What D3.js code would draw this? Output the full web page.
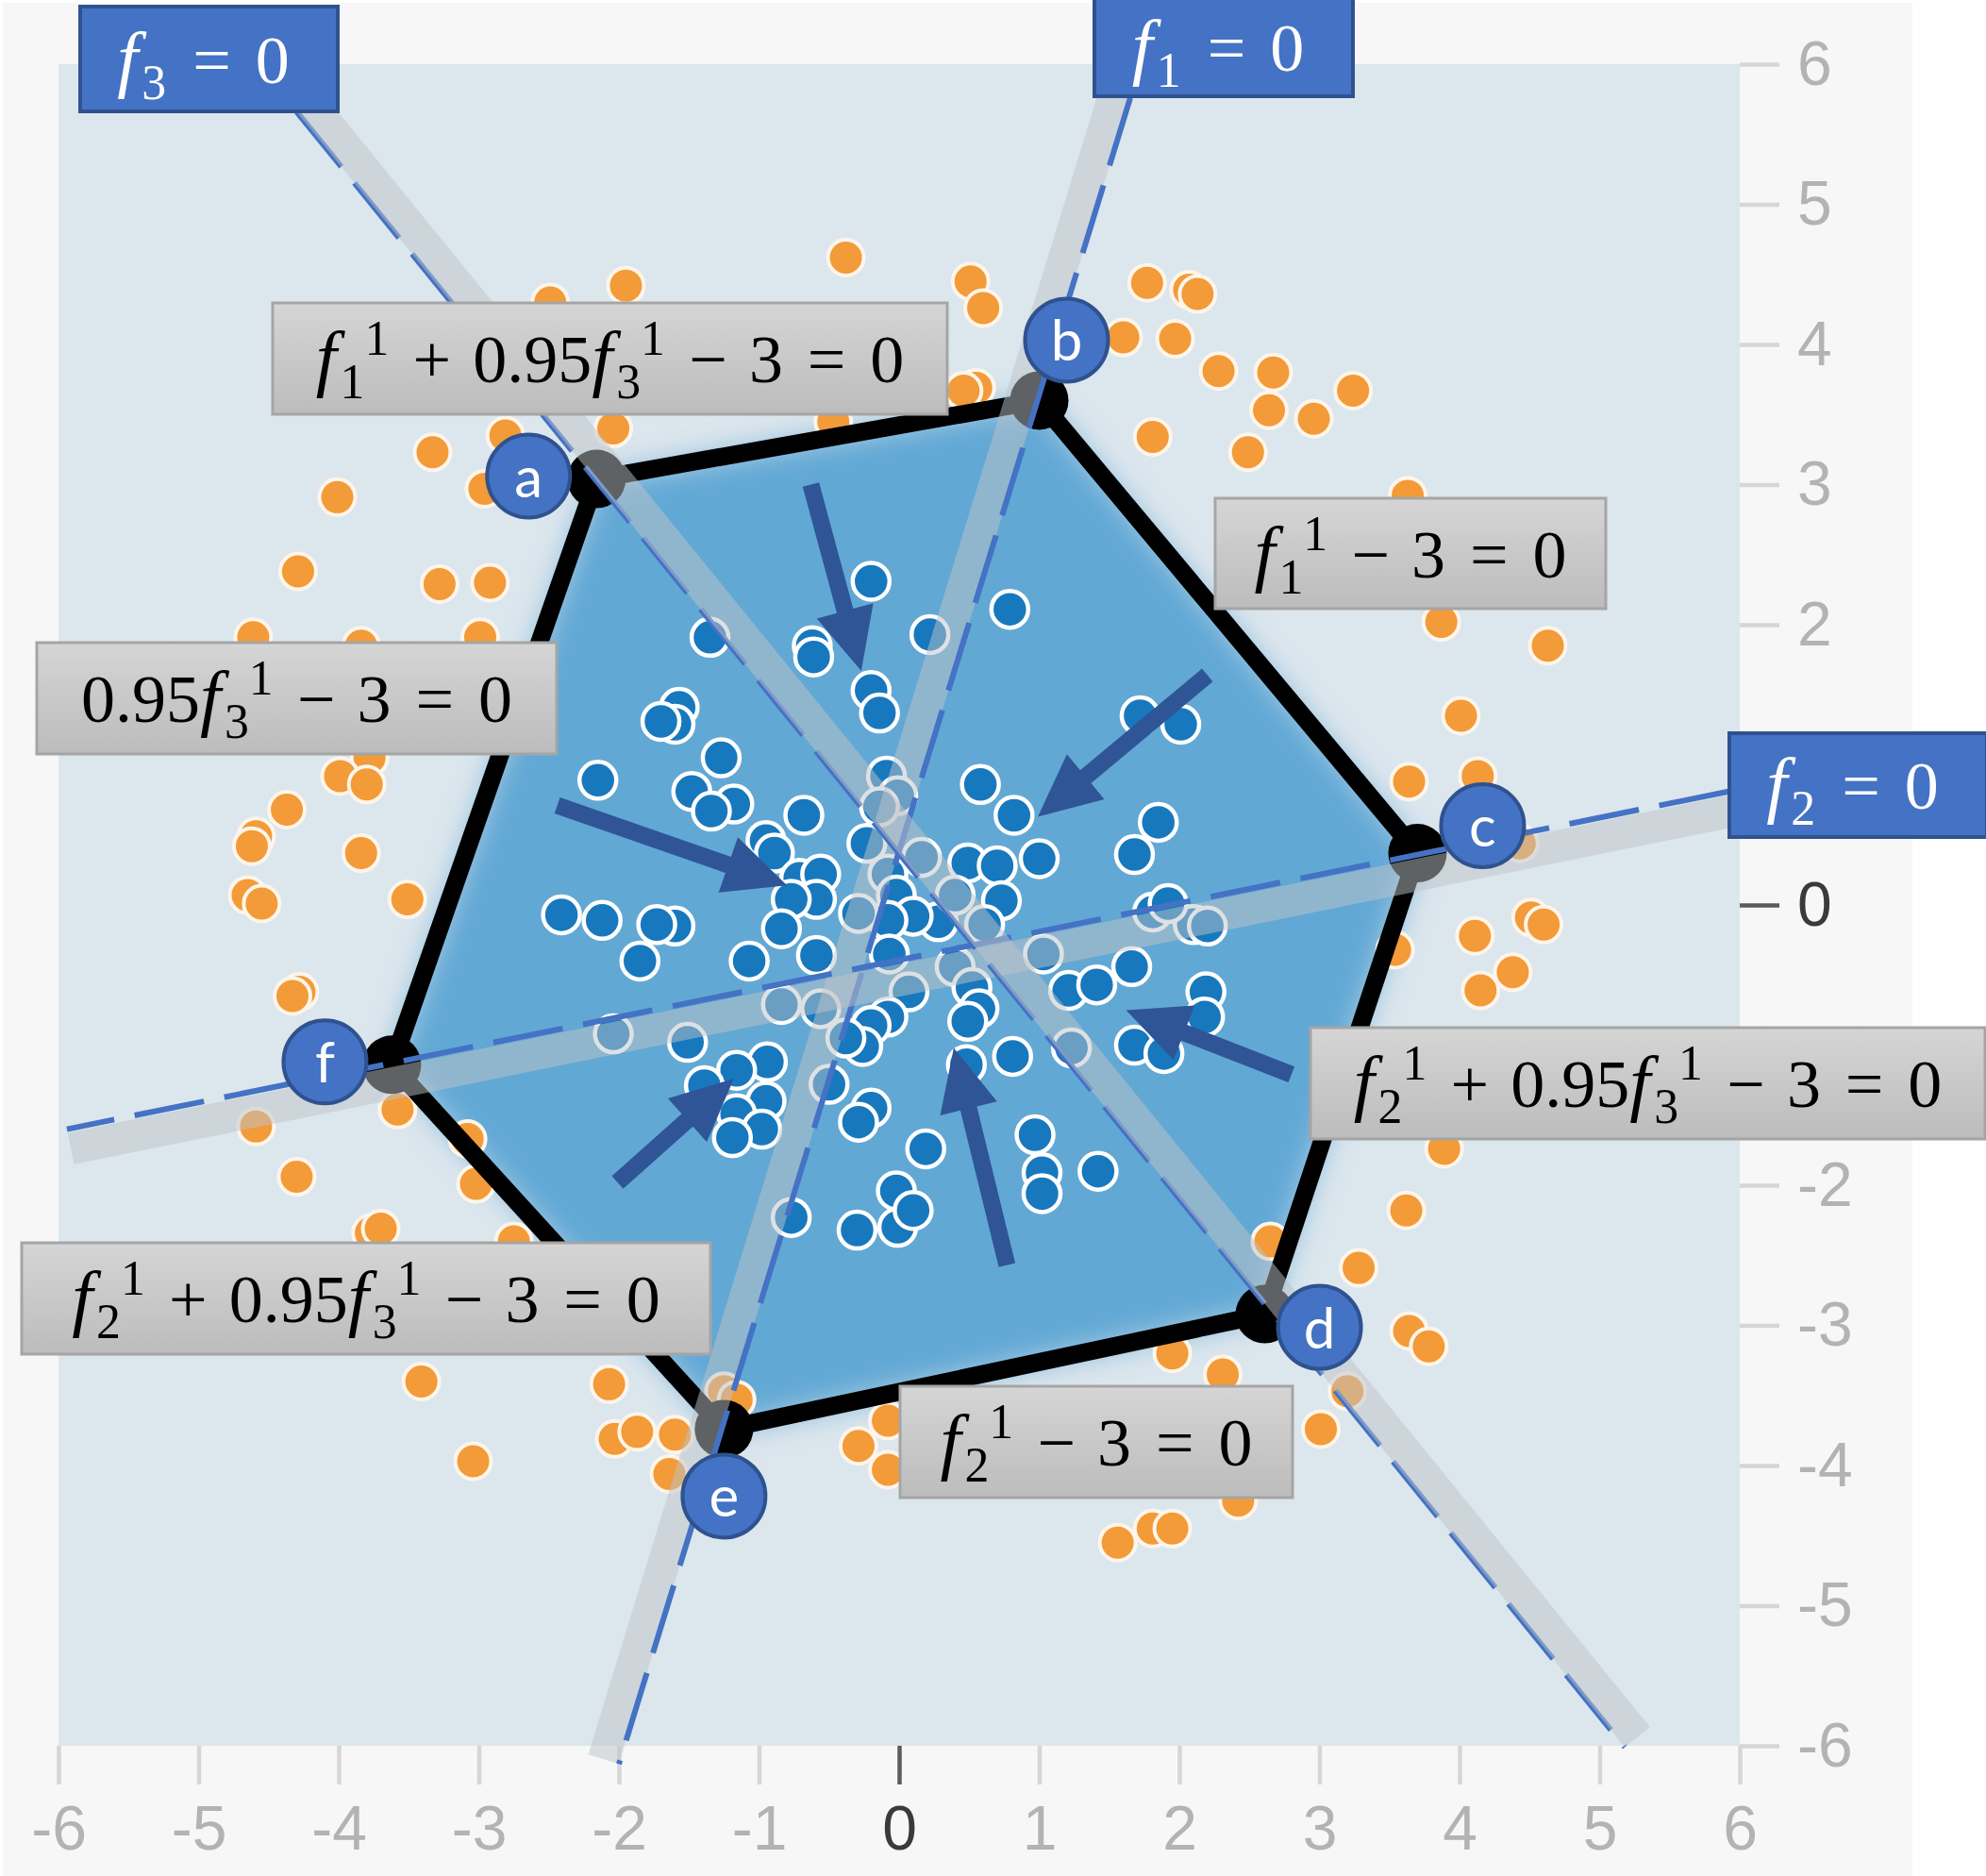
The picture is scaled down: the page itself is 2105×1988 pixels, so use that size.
<!DOCTYPE html>
<html>
<head>
<meta charset="utf-8">
<script src="https://cdn.jsdelivr.net/npm/d3@7"></script>
<style>
body { margin: 0; background: #fff; }
svg { display: block; }
</style>
</head>
<body>
<svg width="2105" height="1988"></svg>
<script>
// ---- data (feature space coordinates) ----
var tickVals = [-6, -5, -4, -3, -2, -1, 0, 1, 2, 3, 4, 5, 6];

var vertexNames = ["a", "b", "c", "d", "e", "f"];
var vertexX = [-2.16, 1.00, 3.70, 2.61, -1.25, -3.62];
var vertexY = [3.04, 3.60, 0.37, -2.92, -3.74, -1.14];

// f1 = 0, f2 = 0, f3 = 0
var lineNames = ["f_1 = 0", "f_2 = 0", "f_3 = 0"];
var lineStart = [[1.65, 5.76], [5.92, 0.81], [-4.30, 5.66]];
var lineEnd = [[-2.00, -6.13], [-5.94, -1.60], [5.18, -6.01]];

var constraintLabels = [
  "f_1^1 + 0.95f_3^1 − 3 = 0",
  "f_1^1 − 3 = 0",
  "0.95f_3^1 − 3 = 0",
  "f_2^1 + 0.95f_3^1 − 3 = 0",
  "f_2^1 + 0.95f_3^1 − 3 = 0",
  "f_2^1 − 3 = 0"
];

var arrowFrom = [[-0.63, 3.00], [2.20, 1.64], [-2.44, 0.71], [-2.01, -1.98], [0.77, -2.57], [2.80, -1.21]];
var arrowTo = [[-0.27, 1.67], [0.99, 0.63], [-0.80, 0.14], [-1.18, -1.24], [0.39, -1.02], [1.62, -0.75]];

var outsidePts = [
  [-1.95,4.42],[-2.49,4.30],[-3.33,3.23],[-2.81,3.35],[-2.04,3.40],[-4.01,2.91],[-2.96,2.97],
  [-0.38,4.62],[0.51,4.45],[0.60,4.26],[1.77,4.44],[2.07,4.39],[2.13,4.36],[1.60,4.05],[1.97,4.04],
  [2.28,3.81],[2.67,3.80],[2.64,3.53],[2.96,3.47],[1.81,3.34],[2.49,3.23],[0.55,3.69],[0.46,3.67],
  [-0.47,3.45],[3.24,3.67],[3.63,2.92],[3.87,2.02],[4.63,1.85],[4.01,1.35],[3.64,0.88],[4.13,0.92],
  [4.43,0.44],[4.51,-0.09],[4.60,-0.14],[4.11,-0.22],[4.38,-0.48],[4.15,-0.61],[3.54,-0.32],
  [3.89,-1.74],[3.62,-2.18],[3.28,-2.59],[3.64,-3.04],[3.78,-3.15],[3.20,-3.47],[3.01,-3.74],
  [2.65,-2.40],[1.95,-3.20],[2.31,-3.35],[2.42,-4.25],[1.56,-4.55],[1.81,-4.45],[1.95,-4.45],
  [-0.29,-3.86],[-0.08,-3.68],[-0.08,-4.03],[-1.60,-3.78],[-1.64,-4.06],[-1.25,-3.47],[-1.16,-3.53],
  [-3.77,-2.34],[-3.70,-2.31],[-2.75,-2.40],[-3.41,-3.40],[-3.04,-3.97],[-2.07,-3.42],[-2.03,-3.81],
  [-1.87,-3.76],[-4.29,2.38],[-3.28,2.29],[-2.92,2.30],[-4.61,1.91],[-3.84,1.85],[-2.99,1.91],
  [-3.78,1.05],[-3.99,0.92],[-3.80,0.86],[-4.37,0.68],[-4.59,0.49],[-4.62,0.42],[-3.84,0.37],
  [-4.65,0.07],[-4.55,0.01],[-3.51,0.04],[-4.28,-0.62],[-4.33,-0.65],[-3.58,-1.46],[-4.59,-1.58],
  [-3.08,-1.67],[-4.30,-1.94],[-3.02,-1.99]
];

var insidePts = [
  [-0.20,2.31],[0.79,2.11],[0.22,1.93],[-1.35,1.91],[-0.62,1.85],[-0.61,1.77],[-0.20,1.53],[-0.14,1.37],
  [-1.57,1.41],[-1.60,1.29],[-1.27,1.05],[-1.48,0.81],[-1.18,0.72],[-1.34,0.67],[-0.68,0.64],[-0.09,0.92],
  [-0.01,0.78],[-0.14,0.70],[0.58,0.86],[0.82,0.64],[1.72,1.35],[2.01,1.29],[1.85,0.59],[1.68,0.36],
  [1.00,0.33],[0.49,0.30],[0.70,0.28],[-0.23,0.44],[0.16,0.34],[-0.95,0.46],[-0.89,0.37],[-0.71,0.19],
  [-0.56,0.22],[-0.59,0.04],[-0.77,0.04],[-0.08,0.22],[-0.02,0.07],[0.28,-0.12],[0.10,-0.08],[-0.08,-0.11],
  [-0.29,-0.06],[0.73,0.03],[0.61,-0.14],[0.40,0.07],[-0.84,-0.17],[-1.60,-0.15],[-1.07,-0.40],[-0.59,-0.36],
  [-0.07,-0.35],[0.40,-0.44],[1.03,-0.35],[1.81,-0.05],[2.10,-0.14],[2.20,-0.15],[1.92,0.01],[1.66,-0.44],
  [1.21,-0.61],[1.41,-0.57],[2.19,-0.62],[2.18,-0.80],[1.68,-1.00],[1.89,-1.06],[1.23,-1.02],[0.81,-1.08],
  [0.52,-0.59],[0.57,-0.74],[0.49,-0.83],[0.07,-0.62],[-0.08,-0.80],[-0.20,-0.86],[-0.26,-1.01],[-0.38,-0.95],
  [-0.56,-0.74],[-0.84,-0.71],[-1.51,-0.98],[-0.94,-1.12],[-1.16,-1.18],[-1.39,-1.29],[-0.95,-1.40],
  [-1.16,-1.49],[-0.98,-1.60],[-1.19,-1.66],[-0.50,-1.28],[-0.20,-1.45],[-0.29,-1.55],[0.19,-1.74],
  [0.48,-1.14],[0.97,-1.64],[1.02,-1.91],[1.42,-1.90],[-0.02,-2.04],[-2.15,0.89],[-2.41,-0.07],[-2.12,-0.11],
  [-1.85,-0.40],[-1.73,-0.14],[-1.70,1.31],[-2.04,-0.92],[-0.77,-2.23],[-0.30,-2.32],[-0.01,-2.30],
  [0.10,-2.18],[1.02,-2.06]
];

// ---- layout (pixels) ----
var vLabelOffset = [[-72, -3], [29, -64], [69, -29], [58, 14], [0, 71], [-71, -3]];
var bandShift = [17, -21, -17];       // band offset from the dashed line, along its normal
var dashOnTop = [true, true, false];
var lineBoxes = [[1160, -3, 1434, 102], [1833, 777, 2106, 887], [85, 7, 358, 118]];
var labelBoxes = [
  [289, 321, 1004, 439], [1288, 528, 1702, 645], [39, 681, 590, 799],
  [1389, 1089, 2104, 1207], [23, 1317, 753, 1435], [954, 1469, 1370, 1587]
];
var hiddenYLabels = [1, -1];          // these sit under the f2 boxes in the original

var svg = d3.select("svg");
var x = d3.scaleLinear().domain([-6, 6]).range([62, 1844]);
var y = d3.scaleLinear().domain([-6, 6]).range([1850, 68]);

var defs = svg.append("defs");
defs.append("filter").attr("id", "soft")
    .attr("x", "-20%").attr("y", "-20%").attr("width", "140%").attr("height", "140%")
  .append("feGaussianBlur").attr("stdDeviation", 16);
var grad = defs.append("linearGradient").attr("id", "boxGrad")
    .attr("x1", 0).attr("y1", 0).attr("x2", 0).attr("y2", 1);
grad.append("stop").attr("offset", "0%").attr("stop-color", "#d5d5d5");
grad.append("stop").attr("offset", "100%").attr("stop-color", "#bcbcbc");

// backgrounds
svg.append("rect").attr("x", 3).attr("y", 3).attr("width", 2024).attr("height", 1985).attr("fill", "#f7f7f7");
svg.append("rect")
    .attr("x", x(-6)).attr("y", y(6))
    .attr("width", x(6) - x(-6)).attr("height", y(-6) - y(6))
    .attr("fill", "#dce6ed");

// axes
function styleAxis(g) {
  g.select(".domain").remove();
  g.attr("font-family", "'Liberation Sans', Arial, sans-serif").attr("font-size", 66);
  g.selectAll(".tick line").attr("stroke", d => d === 0 ? "#5c5c5c" : "#d6d6d6").attr("stroke-width", 4.5);
  g.selectAll(".tick text").attr("fill", d => d === 0 ? "#3a3a3a" : "#b3b3b3");
}
svg.append("g")
    .attr("transform", "translate(0," + y(-6) + ")")
    .call(d3.axisBottom(x).tickValues(tickVals).tickSize(41).tickPadding(22).tickFormat(d => String(d)))
    .call(styleAxis);
svg.append("g")
    .attr("transform", "translate(" + x(6) + ",0)")
    .call(d3.axisRight(y).tickValues(tickVals).tickSize(42).tickPadding(19).tickFormat(d => String(d)))
    .call(styleAxis)
    .call(g => g.selectAll(".tick text").filter(d => hiddenYLabels.indexOf(d) >= 0).remove());

// feasible region
var hex = vertexX.map((vx, i) => [vx, vertexY[i]]);
var hexLine = d3.line().x(d => x(d[0])).y(d => y(d[1])).curve(d3.curveLinearClosed);
svg.append("path").attr("d", hexLine(hex)).attr("fill", "#62a8d5").attr("filter", "url(#soft)");

// points
svg.append("g").selectAll("circle")
    .data(outsidePts)
    .enter()
    .append("circle")
    .attr("cx", d => x(d[0]))
    .attr("cy", d => y(d[1]))
    .attr("r", 19)
    .attr("fill", "#f29b38")
    .attr("stroke", "#fff5ea")
    .attr("stroke-width", 4);
svg.append("g").selectAll("circle")
    .data(insidePts)
    .enter()
    .append("circle")
    .attr("cx", d => x(d[0]))
    .attr("cy", d => y(d[1]))
    .attr("r", 19.5)
    .attr("fill", "#1778be")
    .attr("stroke", "#ffffff")
    .attr("stroke-width", 4.5);

// hexagon outline and vertices
svg.append("path").attr("d", hexLine(hex)).attr("fill", "none")
    .attr("stroke", "#000").attr("stroke-width", 19).attr("stroke-linejoin", "round");
svg.append("g").selectAll("circle")
    .data(hex)
    .enter()
    .append("circle")
    .attr("cx", d => x(d[0]))
    .attr("cy", d => y(d[1]))
    .attr("r", 31)
    .attr("fill", "#000");

// f_i = 0 lines: grey band + dashed line
lineStart.forEach(function(s, i) {
  var x1 = x(s[0]), y1 = y(s[1]), x2 = x(lineEnd[i][0]), y2 = y(lineEnd[i][1]);
  var len = Math.hypot(x2 - x1, y2 - y1);
  var ux = (x2 - x1) / len, uy = (y2 - y1) / len;
  var nx = -uy, ny = ux, k = bandShift[i];
  var dash = function() {
    svg.append("line")
        .attr("x1", x1).attr("y1", y1).attr("x2", x2).attr("y2", y2)
        .attr("stroke", "#4472c4").attr("stroke-width", 6)
        .attr("stroke-dasharray", "75 22");
  };
  if (!dashOnTop[i]) dash();
  svg.append("line")
      .attr("x1", x1 - ux * 25 + nx * k).attr("y1", y1 - uy * 25 + ny * k)
      .attr("x2", x2 + nx * k).attr("y2", y2 + ny * k)
      .attr("stroke", "rgba(190,195,200,0.5)").attr("stroke-width", 34);
  if (dashOnTop[i]) dash();
});

// arrows
arrowFrom.forEach(function(f, i) {
  var tx = x(f[0]), ty = y(f[1]), px = x(arrowTo[i][0]), py = y(arrowTo[i][1]);
  var len = Math.hypot(px - tx, py - ty);
  var ux = (px - tx) / len, uy = (py - ty) / len, nx = -uy, ny = ux;
  var hl = 66, hw = 31, sw = 9;
  var bx = px - ux * hl, by = py - uy * hl;
  var pts = [
    [tx + nx * sw, ty + ny * sw], [bx + nx * sw, by + ny * sw], [bx + nx * hw, by + ny * hw],
    [px, py],
    [bx - nx * hw, by - ny * hw], [bx - nx * sw, by - ny * sw], [tx - nx * sw, ty - ny * sw]
  ];
  svg.append("polygon").attr("points", pts.map(p => p.join(",")).join(" ")).attr("fill", "#2f5597");
});

// vertex labels
var vl = svg.append("g").selectAll("g")
    .data(hex)
    .enter()
    .append("g")
    .attr("transform", (d, i) => "translate(" + (x(d[0]) + vLabelOffset[i][0]) + "," + (y(d[1]) + vLabelOffset[i][1]) + ")");
vl.append("circle").attr("r", 44).attr("fill", "#4472c4").attr("stroke", "#2f528f").attr("stroke-width", 4);
vl.append("text")
    .attr("text-anchor", "middle")
    .attr("y", 22)
    .attr("font-family", "Lato, 'Open Sans', sans-serif")
    .attr("font-size", 60)
    .attr("fill", "#fff")
    .text((d, i) => vertexNames[i]);

// math text: "f_1^1 + 0.95f_3^1 − 3 = 0"
function parseMath(str) {
  var toks = [], i = 0;
  while (i < str.length) {
    var c = str[i];
    if (c === " ") { i++; continue; }
    if (c === "_" || c === "^") {
      var last = toks[toks.length - 1];
      var scr = (last && last.kind === "script") ? last : { kind: "script" };
      if (scr !== last) toks.push(scr);
      scr[c === "_" ? "sub" : "sup"] = str[i + 1];
      i += 2;
      continue;
    }
    if ("+−=".indexOf(c) >= 0) { toks.push({ kind: "op", s: c, rel: c === "=" }); i++; continue; }
    if (c === "f") { toks.push({ kind: "var", s: c }); i++; continue; }
    var run = "";
    while (i < str.length && /[0-9.]/.test(str[i])) run += str[i++];
    if (run === "") run = str[i++];
    toks.push({ kind: "num", s: run });
  }
  return toks;
}

function drawMath(str, cx, base, fs, color) {
  var g = svg.append("g")
      .attr("fill", color)
      .attr("font-family", "'Liberation Serif', 'DejaVu Serif', serif")
      .attr("font-size", fs);
  var cur = 0;
  parseMath(str).forEach(function(t) {
    if (t.kind === "op") {
      var gap = fs * (t.rel ? 0.36 : 0.32);
      cur += gap;
      var e = g.append("text").attr("x", cur).text(t.s);
      cur += e.node().getComputedTextLength() + gap;
    } else if (t.kind === "var") {
      g.append("text").attr("x", cur).attr("font-style", "italic").attr("font-size", fs * 1.1).text(t.s);
      cur += fs * 0.36;
    } else if (t.kind === "script") {
      var w = 0, subW = 0;
      if (t.sub) {
        var s1 = g.append("text").attr("x", cur).attr("y", fs * 0.24).attr("font-size", fs * 0.72).text(t.sub);
        subW = w = s1.node().getComputedTextLength();
      }
      if (t.sup) {
        // superscript sits just right of the subscript, as in the original
        var s2 = g.append("text").attr("x", cur + subW).attr("y", -fs * 0.40).attr("font-size", fs * 0.72).text(t.sup);
        w = subW + s2.node().getComputedTextLength();
      }
      cur += w + fs * 0.03;
    } else {
      var e2 = g.append("text").attr("x", cur).text(t.s);
      cur += e2.node().getComputedTextLength();
    }
  });
  g.attr("transform", "translate(" + (cx - cur / 2) + "," + base + ")");
}

// constraint boxes
constraintLabels.forEach(function(lab, i) {
  var b = labelBoxes[i];
  svg.append("rect")
      .attr("x", b[0]).attr("y", b[1]).attr("width", b[2] - b[0]).attr("height", b[3] - b[1])
      .attr("fill", "url(#boxGrad)").attr("stroke", "#a5a5a5").attr("stroke-width", 3);
  drawMath(lab, (b[0] + b[2]) / 2, (b[1] + b[3]) / 2 + 25, 72, "#000");
});

// f_i = 0 boxes
lineNames.forEach(function(lab, i) {
  var b = lineBoxes[i];
  svg.append("rect")
      .attr("x", b[0]).attr("y", b[1]).attr("width", b[2] - b[0]).attr("height", b[3] - b[1])
      .attr("fill", "#4472c4").attr("stroke", "#2f528f").attr("stroke-width", 4);
  drawMath(lab, (b[0] + b[2]) / 2 - 6, (b[1] + b[3]) / 2 + 25, 72, "#fff");
});
</script>
</body>
</html>
